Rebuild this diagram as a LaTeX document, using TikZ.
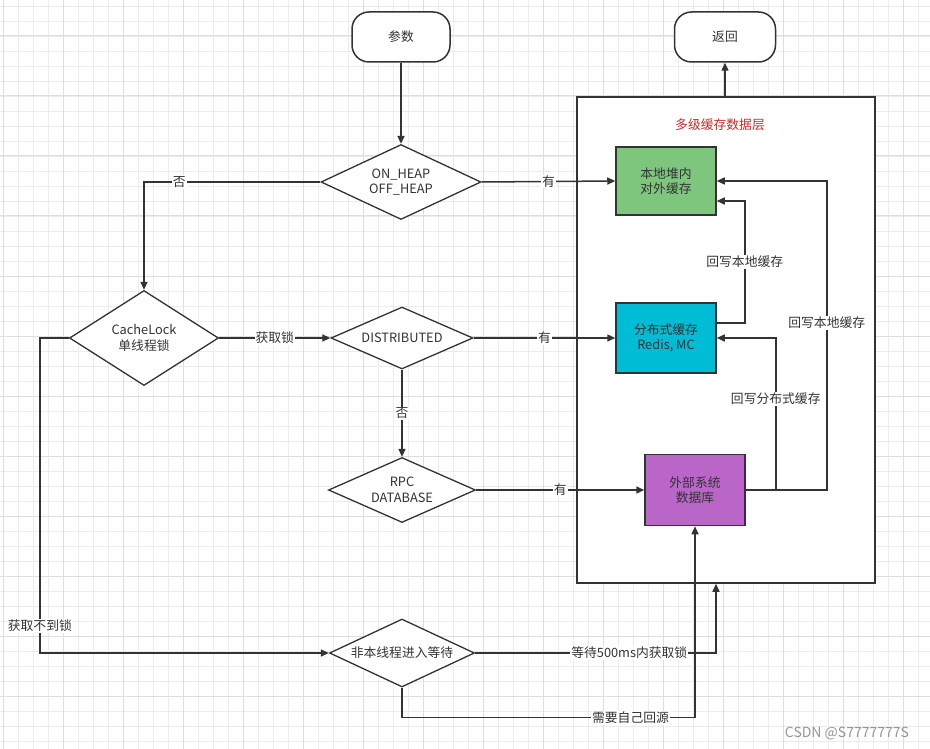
\documentclass[tikz,border=0pt]{standalone}
\usepackage{fontspec}
\setmainfont{Noto Sans CJK SC}
\usetikzlibrary{shapes.geometric,arrows.meta}
\definecolor{linec}{RGB}{51,51,51}
\definecolor{gridminor}{RGB}{236,236,236}
\definecolor{gridmajor}{RGB}{222,222,222}
\definecolor{greenf}{RGB}{126,198,126}
\definecolor{cyanf}{RGB}{0,188,212}
\definecolor{purplef}{RGB}{185,102,200}
\definecolor{titlered}{RGB}{204,40,40}
\definecolor{wmgray}{RGB}{150,150,150}
\begin{document}
\begin{tikzpicture}[x=1pt,y=-1pt,
  txt/.style={font=\fontsize{12.8}{15.5}\selectfont, text=linec, align=center},
  term/.style={txt, draw=linec, line width=1.5pt, fill=white, rounded corners=17pt, inner sep=0pt},
  boxn/.style={txt, draw=linec, line width=1.5pt, inner sep=0pt, minimum width=100pt},
  dec/.style={txt, draw=linec, line width=1.3pt, fill=white, diamond, inner sep=0pt},
  conn/.style={draw=linec, line width=1.5pt, -{Triangle[length=8pt,width=7pt]}},
  lbl/.style={txt, fill=white, inner sep=1pt}
]
\useasboundingbox (0,0) rectangle (930,749);
\fill[white] (0,0) rectangle (930,749);
\foreach \x in {3,18,...,930} \draw[gridminor, line width=0.8pt] (\x,0) -- (\x,749);
\foreach \y in {6,21,...,749} \draw[gridminor, line width=0.8pt] (0,\y) -- (930,\y);
\foreach \x in {3,63,...,930} \draw[gridmajor, line width=1pt] (\x,0) -- (\x,749);
\foreach \y in {36,96,...,749} \draw[gridmajor, line width=1pt] (0,\y) -- (930,\y);

% container
\node[draw=linec, line width=1.5pt, fill=white, minimum width=298pt, minimum height=486pt, inner sep=0pt] (cont) at (726,340) {};
\node[txt, text=titlered] (title) at (720,125) {多级缓存数据层};

% terminals
\node[term, minimum width=98pt, minimum height=50pt] (p) at (401,37) {参数};
\node[term, minimum width=101pt, minimum height=50pt] (r) at (725,37) {返回};

% boxes
\node[boxn, fill=greenf, minimum height=68pt] (g) at (666,181) {本地堆内\\对外缓存};
\node[boxn, fill=cyanf, minimum height=70pt] (c) at (666,338) {分布式缓存\\Redis, MC};
\node[boxn, fill=purplef, minimum height=71pt] (pu) at (695,490) {外部系统\\数据库};

% decisions
\node[dec, shape aspect=2.13, minimum width=160pt, minimum height=75pt] (d1) at (401,182) {ON\_HEAP\\OFF\_HEAP};
\node[dec, shape aspect=1.57, minimum width=149pt, minimum height=95pt] (d2) at (144,338) {CacheLock\\单线程锁};
\node[dec, shape aspect=2.29, minimum width=142pt, minimum height=62pt] (d3) at (402,338) {DISTRIBUTED};
\node[dec, shape aspect=2.26, minimum width=147pt, minimum height=65pt] (d4) at (402,490) {RPC\\DATABASE};
\node[dec, shape aspect=2.13, minimum width=145pt, minimum height=68pt] (d5) at (402,653) {非本线程进入等待};

% connectors
\draw[conn] (p.south) -- (d1.north);
\draw[conn] (cont.north -| r.south) -- (r.south);
\draw[conn] (d1.east) -- node[lbl]{有} (g.west);
\draw[conn] (d1.west) -| node[lbl, pos=0.4]{否} (d2.north);
\draw[conn] (d2.east) -- node[lbl]{获取锁} (d3.west);
\draw[conn] (d3.east) -- node[lbl]{有} (c.west);
\draw[conn] (d3.south) -- node[lbl]{否} (d4.north);
\draw[conn] (d4.east) -- node[lbl]{有} (pu.west);
\draw[conn] ([yshift=15pt]c.east) -- ++(28,0) |- node[lbl, pos=0.25]{回写本地缓存} ([yshift=-20pt]g.east);
\draw[conn] (pu.east) -- ++(30,0) |- node[lbl, pos=0.3]{回写分布式缓存} (c.east);
\draw[conn] (pu.east) -- ++(81,0) |- node[lbl, pos=0.27]{回写本地缓存} (g.east);
\draw[conn] (d2.west) -- ++(-29,0) |- node[lbl, pos=0.457]{获取不到锁} (d5.west);
\draw[conn] (d5.east) -| node[lbl, pos=0.32]{等待500ms内获取锁} ([xshift=-10pt]cont.south);
\draw[conn] (d5.south) -- ++(0,30) -| node[lbl, pos=0.39]{需要自己回源} (pu.south);

\node[font=\fontsize{14}{16}\selectfont, text=wmgray] (csdn) at (847,733) {CSDN @S7777777S};
\end{tikzpicture}
\end{document}
